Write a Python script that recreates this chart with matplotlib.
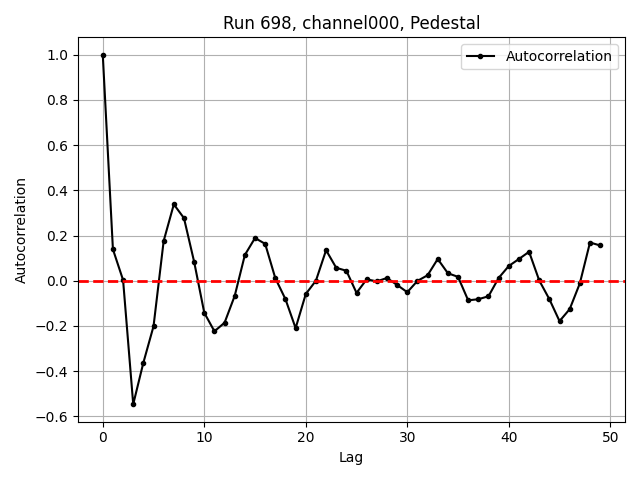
import matplotlib
matplotlib.use("Agg")
import matplotlib.pyplot as plt
import numpy as np

lags = list(range(50))
acf = [1.0, 0.139, 0.003, -0.547, -0.363, -0.202, 0.176, 0.338, 0.277, 0.084,
       -0.142, -0.224, -0.186, -0.067, 0.114, 0.189, 0.163, 0.011, -0.082, -0.210,
       -0.059, 0.0, 0.135, 0.057, 0.044, -0.054, 0.006, -0.003, 0.012, -0.019,
       -0.051, -0.001, 0.024, 0.096, 0.033, 0.017, -0.087, -0.082, -0.069, 0.012,
       0.065, 0.096, 0.128, 0.001, -0.082, -0.179, -0.126, -0.012, 0.169, 0.156]

fig, ax = plt.subplots(figsize=(6.4, 4.8), dpi=100)
ax.plot(lags, acf, marker='.', color='black', label='Autocorrelation')
ax.axhline(0, color='red', linestyle='--', linewidth=2)
ax.set_title('Run 698, channel000, Pedestal')
ax.set_xlabel('Lag')
ax.set_ylabel('Autocorrelation')
ax.grid(True)
ax.legend(loc='upper right')
fig.tight_layout()
fig.savefig('out.png')
